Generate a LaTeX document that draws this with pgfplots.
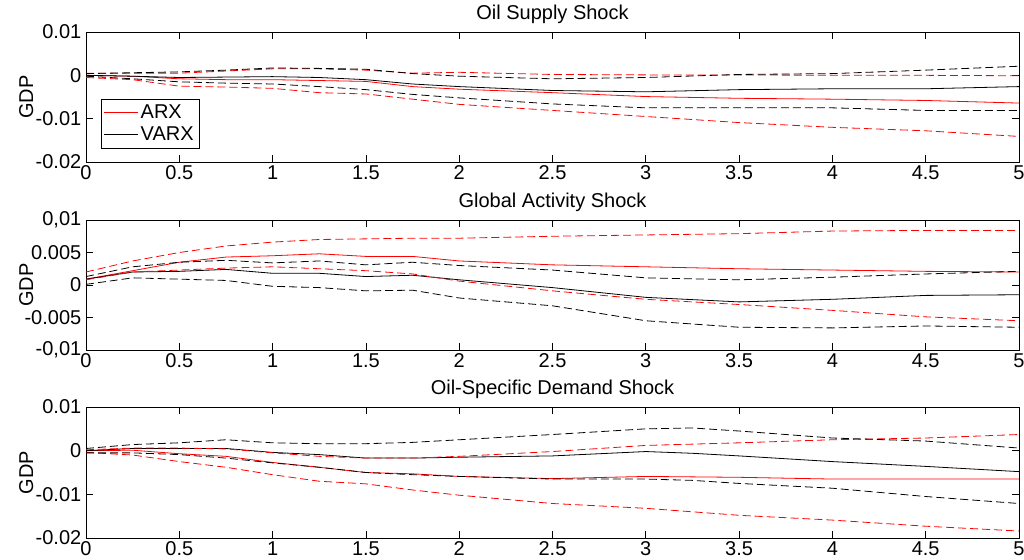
\documentclass[border=0pt]{standalone}
\usepackage{fontspec}
\setmainfont{Liberation Sans}
\usepackage{pgfplots}
\usepackage{pgfplotstable}
\pgfplotsset{compat=1.18}

% columns: x, ARX (mean, low, high), VARX (mean, low, high)
\pgfplotstableread{
x     arx      arxlo    arxhi    varx     varxlo   varxhi
0     0        -0.0005  0.0005   0        -0.0002  0.0004
0.25  -0.0002  -0.0010  0.0005   -0.0002  -0.0008  0.0006
0.5   -0.0008  -0.0025  0.0005   -0.0005  -0.0015  0.0008
0.75  -0.0010  -0.0027  0.0010   -0.0004  -0.0018  0.0012
1     -0.0010  -0.0030  0.0015   -0.0003  -0.0020  0.0017
1.25  -0.0012  -0.0040  0.0015   -0.0005  -0.0026  0.0016
1.5   -0.0014  -0.0043  0.0012   -0.0010  -0.0033  0.0014
1.75  -0.0026  -0.0055  0.0005   -0.0020  -0.0044  0.0004
2     -0.0032  -0.0067  0.0007   -0.0026  -0.0052  -0.0002
2.5   -0.0040  -0.0081  0.0002   -0.0035  -0.0066  -0.0008
3     -0.0049  -0.0095  0.0001   -0.0038  -0.0075  -0.0005
3.5   -0.0053  -0.0109  0.0001   -0.0033  -0.0075  0.0002
4     -0.0055  -0.0120  0        -0.0031  -0.0075  0.0004
4.5   -0.0058  -0.0128  0        -0.0031  -0.0081  0.0012
5     -0.0064  -0.0141  -0.0001  -0.0026  -0.0081  0.0021
}\supply

\pgfplotstableread{
x     arx      arxlo    arxhi    varx     varxlo   varxhi
0     0.0009   0.0008   0.0020   0.0009   0.0001   0.0013
0.25  0.0022   0.0020   0.0037   0.0020   0.0011   0.0028
0.5   0.0035   0.0023   0.0050   0.0021   0.0009   0.0035
0.75  0.0043   0.0026   0.0060   0.0024   0.0007   0.0038
1     0.0045   0.0028   0.0066   0.0018   -0.0002  0.0034
1.25  0.0048   0.0025   0.0070   0.0018   -0.0004  0.0037
1.5   0.0044   0.0022   0.0071   0.0013   -0.0009  0.0031
1.75  0.0044   0.0017   0.0072   0.0015   -0.0008  0.0035
2     0.0037   0.0006   0.0072   0.0008   -0.0020  0.0030
2.5   0.0031   -0.0009  0.0075   -0.0004  -0.0032  0.0023
3     0.0028   -0.0022  0.0077   -0.0019  -0.0055  0.0011
3.5   0.0025   -0.0030  0.0079   -0.0026  -0.0065  0.0008
4     0.0023   -0.0039  0.0083   -0.0022  -0.0066  0.0012
4.5   0.0021   -0.0049  0.0084   -0.0016  -0.0063  0.0017
5     0.0020   -0.0055  0.0084   -0.0015  -0.0065  0.0021
}\activity

\pgfplotstableread{
x     arx      arxlo    arxhi    varx     varxlo   varxhi
0     0        -0.0004  0.0002   0        -0.0005  0.0005
0.25  0.0001   -0.0010  0.0006   0.0005   -0.0005  0.0014
0.5   -0.0007  -0.0025  0.0006   0.0005   -0.0009  0.0018
0.75  -0.0013  -0.0038  0.0004   0.0005   -0.0017  0.0025
1     -0.0027  -0.0055  -0.0005  -0.0004  -0.0028  0.0018
1.25  -0.0038  -0.0070  -0.0013  -0.0009  -0.0038  0.0016
1.5   -0.0050  -0.0076  -0.0017  -0.0017  -0.0050  0.0016
1.75  -0.0053  -0.0090  -0.0017  -0.0017  -0.0055  0.0019
2     -0.0059  -0.0102  -0.0013  -0.0015  -0.0059  0.0025
2.5   -0.0064  -0.0121  -0.0002  -0.0012  -0.0065  0.0037
3     -0.0059  -0.0132  0.0012   -0.0002  -0.0065  0.0050
3.25  -0.0060  -0.0140  0.0015   -0.0006  -0.0068  0.0052
3.5   -0.0061  -0.0148  0.0018   -0.0012  -0.0075  0.0045
4     -0.0065  -0.0159  0.0025   -0.0025  -0.0086  0.0029
4.5   -0.0065  -0.0173  0.0029   -0.0036  -0.0105  0.0022
5     -0.0065  -0.0184  0.0037   -0.0048  -0.0121  0.0006
}\demand

\newcommand{\fs}{\fontsize{15}{17}\selectfont}

\pgfplotsset{
  panel/.style={
    scale only axis, width=699.75pt, height=97.5pt,
    xmin=0, xmax=5,
    xtick={0,0.5,1,1.5,2,2.5,3,3.5,4,4.5,5},
    xticklabels={0,0.5,1,1.5,2,2.5,3,3.5,4,4.5,5},
    scaled y ticks=false,
    tick align=inside, major tick length=5pt,
    tick style={black, line width=0.5pt},
    axis line style={line width=0.6pt},
    /pgf/number format/assume math mode=true,
    tick label style={font=\fs},
    xticklabel style={yshift=1pt},
    ylabel={GDP},
    ylabel style={font=\fs, at={(axis description cs:-0.064,0.5)}, anchor=center},
    title style={font=\fs, yshift=-3pt},
  },
  mid/.style={red, line width=0.6pt},
  band/.style={red, line width=0.6pt, dash pattern=on 6pt off 3pt},
  vmid/.style={black, line width=0.6pt},
  vband/.style={black, line width=0.6pt, dash pattern=on 6pt off 3pt},
}

\begin{document}
\begin{tikzpicture}
\useasboundingbox (0,0) rectangle (768pt,-420pt);

\begin{axis}[panel, at={(64.5pt,-121.5pt)}, anchor=south west,
  title={Oil Supply Shock},
  ymin=-0.02, ymax=0.01,
  ytick={-0.02,-0.01,0,0.01},
  yticklabels={-0.02,-0.01,0,0.01},
  legend style={at={(0.016,0.485)}, anchor=north west, font=\fs,
    inner sep=2pt, row sep=1pt},
  legend cell align=left,
  legend image code/.code={\draw[#1] (0pt,0pt) -- (25pt,0pt);},
]
\addplot[mid] table[x=x,y=arx] {\supply};
\addlegendentry{ARX}
\addplot[vmid] table[x=x,y=varx] {\supply};
\addlegendentry{VARX}
\addplot[band, forget plot] table[x=x,y=arxlo] {\supply};
\addplot[band, forget plot] table[x=x,y=arxhi] {\supply};
\addplot[vband, forget plot] table[x=x,y=varxlo] {\supply};
\addplot[vband, forget plot] table[x=x,y=varxhi] {\supply};
\end{axis}

\begin{axis}[panel, at={(64.5pt,-262.5pt)}, anchor=south west,
  title={Global Activity Shock},
  ymin=-0.01, ymax=0.01,
  ytick={-0.01,-0.005,0,0.005,0.01},
  yticklabels={{-0,01},-0.005,0,0.005,{0,01}},
]
\addplot[mid] table[x=x,y=arx] {\activity};
\addplot[vmid] table[x=x,y=varx] {\activity};
\addplot[band] table[x=x,y=arxlo] {\activity};
\addplot[band] table[x=x,y=arxhi] {\activity};
\addplot[vband] table[x=x,y=varxlo] {\activity};
\addplot[vband] table[x=x,y=varxhi] {\activity};
\end{axis}

\begin{axis}[panel, height=98.25pt, at={(64.5pt,-403.5pt)}, anchor=south west,
  title={Oil-Specific Demand Shock},
  ymin=-0.02, ymax=0.01,
  ytick={-0.02,-0.01,0,0.01},
  yticklabels={-0.02,-0.01,0,0.01},
]
\addplot[mid] table[x=x,y=arx] {\demand};
\addplot[vmid] table[x=x,y=varx] {\demand};
\addplot[band] table[x=x,y=arxlo] {\demand};
\addplot[band] table[x=x,y=arxhi] {\demand};
\addplot[vband] table[x=x,y=varxlo] {\demand};
\addplot[vband] table[x=x,y=varxhi] {\demand};
\end{axis}
\end{tikzpicture}
\end{document}
